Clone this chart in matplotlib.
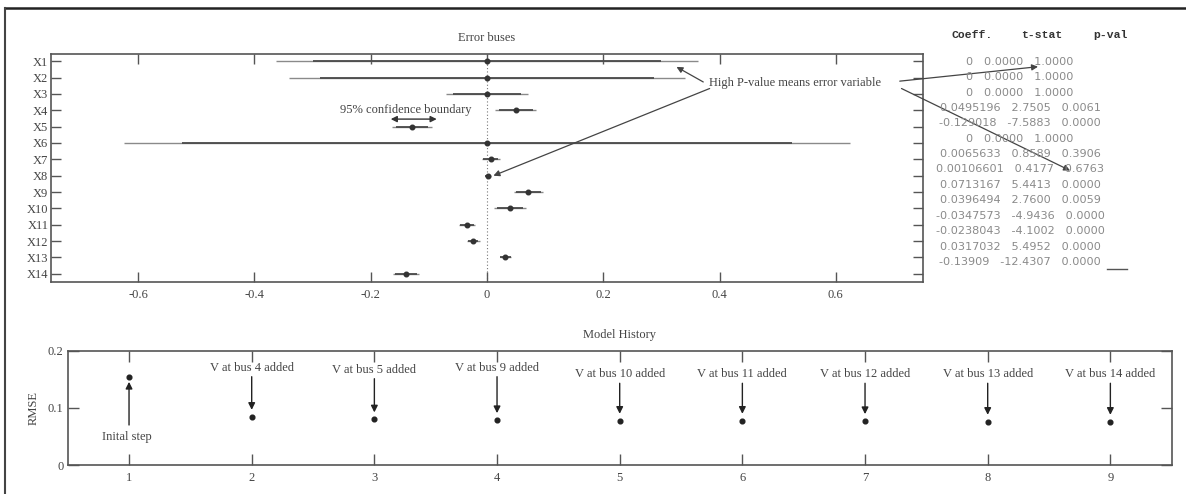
import matplotlib
matplotlib.use("Agg")
import matplotlib.pyplot as plt
from matplotlib.lines import Line2D
import numpy as np

plt.rcParams['font.family'] = ['Liberation Serif', 'DejaVu Serif']
plt.rcParams['axes.unicode_minus'] = False

# ---------------- data ----------------
variables = ["X1", "X2", "X3", "X4", "X5", "X6", "X7", "X8", "X9", "X10", "X11", "X12", "X13", "X14"]
coeff = [0, 0, 0, 0.0495196, -0.129018, 0, 0.0065633, 0.00106601, 0.0713167, 0.0396494,
         -0.0347573, -0.0238043, 0.0317032, -0.13909]
coeff_text = ["0", "0", "0", "0.0495196", "-0.129018", "0", "0.0065633", "0.00106601", "0.0713167",
              "0.0396494", "-0.0347573", "-0.0238043", "0.0317032", "-0.13909"]
t_stat = [0.0, 0.0, 0.0, 2.7505, -7.5883, 0.0, 0.8589, 0.4177, 5.4413, 2.7600, -4.9436, -4.1002, 5.4952, -12.4307]
p_val = [1.0, 1.0, 1.0, 0.0061, 0.0, 1.0, 0.3906, 0.6763, 0.0, 0.0059, 0.0, 0.0, 0.0, 0.0]
ci95_half = [0.363, 0.341, 0.070, 0.035, 0.034, 0.625, 0.015, 0.005, 0.025, 0.027, 0.014, 0.011, 0.010, 0.022]
ci90_half = [0.300, 0.288, 0.058, 0.029, 0.028, 0.525, 0.013, 0.004, 0.021, 0.023, 0.012, 0.009, 0.009, 0.019]
x_ticks_top = [-0.6, -0.4, -0.2, 0, 0.2, 0.4, 0.6]
x_ticklabels_top = ["-0.6", "-0.4", "-0.2", "0", "0.2", "0.4", "0.6"]

steps = [1, 2, 3, 4, 5, 6, 7, 8, 9]
rmse = [0.1545, 0.0845, 0.0800, 0.0787, 0.0776, 0.0776, 0.0770, 0.0758, 0.0758]
step_labels = ["Inital step", "V at bus 4 added", "V at bus 5 added", "V at bus 9 added",
               "V at bus 10 added", "V at bus 11 added", "V at bus 12 added",
               "V at bus 13 added", "V at bus 14 added"]

# ---------------- figure ----------------
W, H = 1186, 494
fig = plt.figure(figsize=(W / 100, H / 100), dpi=100)
fig.patch.set_facecolor("white")

def fx(px):
    return px / W

def fy(py):
    return 1 - py / H

spine_c = "#555555"
text_c = "#444444"
tick_c = "#555555"

# outer frame (cut off at right/bottom)
fig.add_artist(Line2D([fx(5), 1.0], [fy(8), fy(8)], color="#222222", lw=1.8))
fig.add_artist(Line2D([fx(5), fx(5)], [fy(8), 0.0], color="#444444", lw=1.5))

# ---------------- top axes: error bars ----------------
ax = fig.add_axes([fx(51), fy(282), fx(923) - fx(51), (282 - 54) / H])
ypos = np.arange(1, len(variables) + 1)
ax.axvline(0, color="#777777", lw=0.8, ls=(0, (1, 2)), zorder=1)
lo95 = np.array(coeff) - np.array(ci95_half)
hi95 = np.array(coeff) + np.array(ci95_half)
lo90 = np.array(coeff) - np.array(ci90_half)
hi90 = np.array(coeff) + np.array(ci90_half)
ax.hlines(ypos, lo95, hi95, color="#8a8a8a", lw=1.0, zorder=2)
ax.hlines(ypos, lo90, hi90, color="#4a4a4a", lw=1.3, zorder=3)
ax.plot(coeff, ypos, "o", color="#333333", ms=3.3, zorder=4)
ax.set_xlim(-0.75, 0.75)
ax.set_ylim(14.5, 0.56)
ax.set_yticks(ypos)
ax.set_yticklabels(variables)
ax.set_xticks(x_ticks_top)
ax.set_xticklabels(x_ticklabels_top)
ax.tick_params(axis="both", direction="in", length=7, width=1.0, colors=tick_c,
               labelsize=9, top=True, right=True, labelcolor=text_c)
ax.tick_params(axis="y", pad=2)
ax.tick_params(axis="x", pad=5)
for s in ax.spines.values():
    s.set_color(spine_c)
    s.set_linewidth(1.2)
ax.set_title("Error buses", fontsize=9, color=text_c, pad=9)

# annotations on top axes
arrow_kw = dict(arrowstyle="-|>", color="#444444", lw=0.9, mutation_scale=9, shrinkA=0, shrinkB=0)
ax.text(0.382, 2.34, "High P-value means error variable", fontsize=9, color=text_c,
        ha="left", va="center")
ax.annotate("", xy=(0.326, 1.35), xytext=(0.372, 2.27), arrowprops=arrow_kw, annotation_clip=False)
ax.annotate("", xy=(coeff[7] + 0.010, 8.0), xytext=(0.383, 2.67), arrowprops=arrow_kw,
            annotation_clip=False)

ax.text(-0.14, 3.99, "95% confidence boundary", fontsize=9, color=text_c, ha="center", va="center")
ax.annotate("", xy=(-0.1656, 4.54), xytext=(-0.0865, 4.54),
            arrowprops=dict(arrowstyle="<|-|>", color="#333333", lw=1.0, mutation_scale=9,
                            shrinkA=0, shrinkB=0))

# ---------------- coefficient table ----------------
tbl_cx = 1020
row0, drow = 61.7, 15.4
for label, cx in zip(["Coeff.", "t-stat", "p-val"], [971.7, 1041.7, 1110.8]):
    fig.text(fx(cx), fy(35), label, family=["Liberation Mono"], weight="bold",
             fontsize=8.2, color="#333333", ha="center", va="center")
for i, (c, t, p) in enumerate(zip(coeff_text, t_stat, p_val)):
    row = f"{c}   {t:.4f}   {p:.4f}"
    fig.text(fx(tbl_cx), fy(row0 + i * drow), row, family=["DejaVu Sans"], fontsize=8.1,
             color="#8a8a8a", ha="center", va="center")
fig.add_artist(Line2D([fx(1107), fx(1127)], [fy(269), fy(269)], color="#555555", lw=1.0))

# arrows from annotation to the table p-values (rows X1 and X8)
ax.annotate("", xy=(fx(1038), fy(row0 + 0 * drow + 5)), xycoords="figure fraction",
            xytext=(0.710, 2.22), textcoords="data", arrowprops=arrow_kw, annotation_clip=False)
ax.annotate("", xy=(fx(1070), fy(row0 + 7 * drow + 1)), xycoords="figure fraction",
            xytext=(0.713, 2.67), textcoords="data", arrowprops=arrow_kw, annotation_clip=False)

# ---------------- bottom axes: model history ----------------
bx = fig.add_axes([fx(67.7), fy(465), fx(1171.7) - fx(67.7), (465 - 350.7) / H])
bx.plot(steps, rmse, "o", color="#222222", ms=3.4, zorder=4)
bx.set_xlim(0.5, 9.5)
bx.set_ylim(0, 0.2)
bx.set_xticks(steps)
bx.set_yticks([0, 0.1, 0.2])
bx.set_yticklabels(["0", "0.1", "0.2"])
bx.tick_params(axis="both", direction="in", length=8, width=1.0, colors=tick_c,
               labelsize=9, top=True, right=True, labelcolor=text_c)
bx.tick_params(axis="y", pad=3)
bx.tick_params(axis="x", pad=5)
for s in bx.spines.values():
    s.set_color(spine_c)
    s.set_linewidth(1.2)
bx.set_title("Model History", fontsize=9, color=text_c, pad=9)
bx.set_ylabel("RMSE", fontsize=9, color=text_c, labelpad=6)

label_y = [0.0495, 0.1697, 0.166, 0.170, 0.159, 0.159, 0.159, 0.159, 0.159]
tail_y = [0.070, 0.1545, 0.1510, 0.1545, 0.143, 0.143, 0.143, 0.143, 0.143]
head_kw = dict(arrowstyle="-|>", color="#222222", lw=1.0, mutation_scale=10, shrinkA=0, shrinkB=0)
for i, (s, r, lab) in enumerate(zip(steps, rmse, step_labels)):
    if i == 0:
        bx.text(s - 0.02, label_y[i], lab, fontsize=9, color=text_c, ha="center", va="center")
        bx.annotate("", xy=(s, r - 0.009), xytext=(s, tail_y[i]), arrowprops=head_kw)
    else:
        bx.text(s, label_y[i], lab, fontsize=9, color=text_c, ha="center", va="center")
        bx.annotate("", xy=(s, r + 0.012), xytext=(s, tail_y[i]), arrowprops=head_kw)

fig.savefig("out.png", dpi=100, facecolor="white")
